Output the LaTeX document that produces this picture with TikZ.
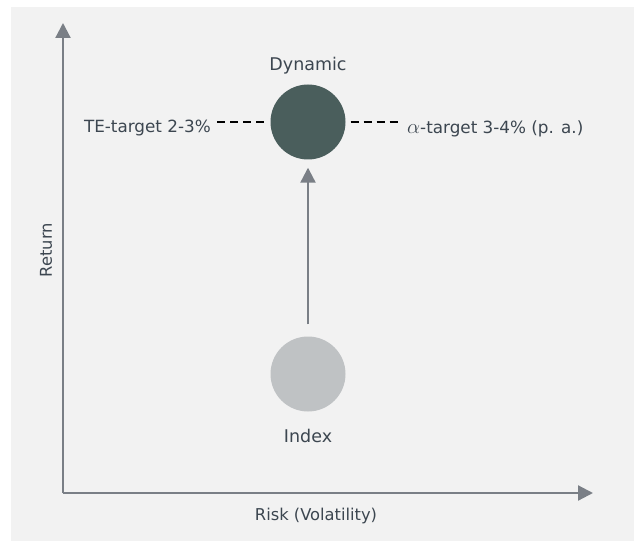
\documentclass[tikz,border=0pt]{standalone}
\usepackage{fontspec}
\setmainfont{DejaVu Sans}
\usetikzlibrary{arrows.meta}
\definecolor{bgcol}{HTML}{F2F2F2}
\definecolor{txtcol}{HTML}{3C4650}
\definecolor{axiscol}{HTML}{7A7F86}
\definecolor{dyncol}{HTML}{4A5E5C}
\definecolor{idxcol}{HTML}{BFC2C4}
\tikzset{
  axis/.style={draw=axiscol, line width=2.2bp, -{Triangle[width=15bp,length=15bp]}},
  dot/.style={circle, minimum size=75bp, inner sep=0pt},
  lbl/.style={text=txtcol, inner sep=0pt, font=\fontsize{16.8bp}{19bp}\selectfont},
  axlbl/.style={text=txtcol, inner sep=0pt, font=\fontsize{16.3bp}{19bp}\selectfont},
  biglbl/.style={text=txtcol, inner sep=0pt, font=\fontsize{17.5bp}{20bp}\selectfont},
  dashline/.style={draw=black, line width=2bp, dash pattern=on 8bp off 5bp}
}
\begin{document}
\begin{tikzpicture}[x=1bp, y=-1bp]
\useasboundingbox (0,0) rectangle (634,541);
\fill[bgcol] (11,7) rectangle (634,541);
\coordinate (origin) at (63,493);
\coordinate (ytip) at (63,23);
\coordinate (xtip) at (593,493);
\draw[axis] (origin) -- (ytip);
\draw[axis] (origin) -- (xtip);
\node[axlbl, rotate=90] (ret) at (46,250) {Return};
\node[axlbl] (risk) at (316,516) {Risk (Volatility)};
\node[dot, fill=dyncol] (dyn) at (308,122) {};
\node[dot, fill=idxcol] (idx) at (308,374) {};
\node[biglbl] (dynl) at (308,66) {Dynamic};
\node[biglbl] (idxl) at (308,436) {Index};
\draw[axis, shorten <=12bp, shorten >=8bp] (idx) -- (dyn);
\node[lbl, anchor=east] (te) at (211,128) {TE-target 2-3\%};
\node[lbl, anchor=west] (al) at (407,129) {{\fontsize{20bp}{20bp}\selectfont$\alpha$}-target 3-4\% (p. a.)};
\draw[dashline, shorten <=6bp, shorten >=5bp] (te.east |- dyn.west) -- (dyn.west);
\draw[dashline, shorten <=5bp, shorten >=9bp] (dyn.east) -- (al.west |- dyn.east);
\end{tikzpicture}
\end{document}
